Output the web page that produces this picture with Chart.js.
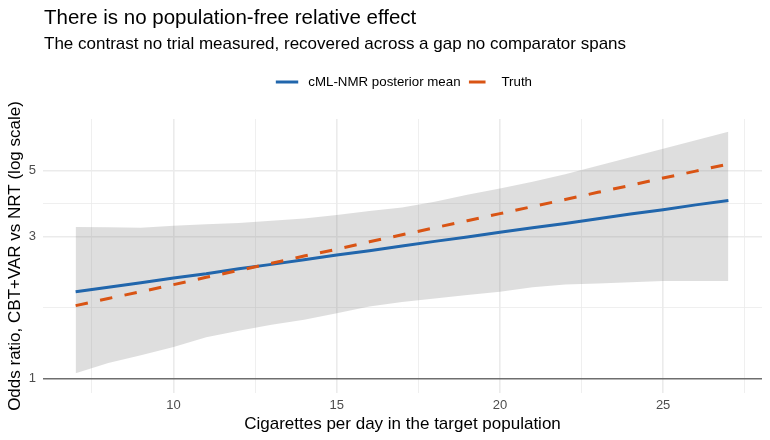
<!DOCTYPE html>
<html>
<head>
<meta charset="utf-8">
<script src="https://cdn.jsdelivr.net/npm/chart.js@4.4.1/dist/chart.umd.min.js"></script>
<style>
  html, body { margin: 0; padding: 0; background: #fff; }
  #wrap { width: 770px; height: 440px; position: relative; }
</style>
</head>
<body>
<div id="wrap"><canvas id="myChart"></canvas></div>
<script>
// テキスト
const TITLE = 'There is no population-free relative effect';
const SUBTITLE = 'The contrast no trial measured, recovered across a gap no comparator spans';
const X_TITLE = 'Cigarettes per day in the target population';
const Y_TITLE = 'Odds ratio, CBT+VAR vs NRT (log scale)';

// 横軸：1日あたりの本数
const cigs = [7, 8, 9, 10, 11, 12, 13, 14, 15, 16, 17, 18, 19, 20, 21, 22, 23, 24, 25, 26, 27];

// 事後平均と真値（オッズ比）
const posteriorMean = [1.96, 2.03, 2.10, 2.18, 2.25, 2.34, 2.42, 2.51, 2.60, 2.69, 2.79, 2.89, 2.99, 3.10, 3.21, 3.32, 3.44, 3.57, 3.69, 3.83, 3.96];
const truth = [1.76, 1.86, 1.96, 2.07, 2.19, 2.31, 2.44, 2.58, 2.72, 2.88, 3.04, 3.21, 3.39, 3.58, 3.78, 3.99, 4.22, 4.45, 4.71, 4.97, 5.25];

// 信用区間の帯
const bandUpper = [3.23, 3.22, 3.21, 3.26, 3.30, 3.33, 3.39, 3.45, 3.54, 3.65, 3.75, 3.92, 4.14, 4.35, 4.58, 4.85, 5.18, 5.53, 5.91, 6.31, 6.74];
const bandLower = [1.045, 1.13, 1.20, 1.28, 1.38, 1.45, 1.52, 1.58, 1.66, 1.75, 1.81, 1.86, 1.91, 1.96, 2.03, 2.07, 2.09, 2.11, 2.13, 2.13, 2.13];

// 目盛り
const xTicks = [7.5, 10, 12.5, 15, 17.5, 20, 22.5, 25, 27.5];
const xLabels = [10, 15, 20, 25];
const yTicks = [1, Math.sqrt(3), 3, Math.sqrt(15), 5];
const yLabels = [1, 3, 5];

const FONT = '"Liberation Sans", Arial, Helvetica, sans-serif';
const BLUE = '#2166AC';
const ORANGE = '#D95414';

const toPoints = ys => cigs.map((x, i) => ({ x: x, y: ys[i] }));

// タイトル・サブタイトル・凡例をパネル基準で描く
const headerPlugin = {
  id: 'header',
  afterDraw(chart) {
    const { ctx, chartArea } = chart;
    ctx.save();
    ctx.fillStyle = '#000';
    ctx.textAlign = 'left';
    ctx.textBaseline = 'alphabetic';
    ctx.font = `20.5px ${FONT}`;
    ctx.fillText(TITLE, chartArea.left + 1, 23.5);
    ctx.font = `17px ${FONT}`;
    ctx.fillText(SUBTITLE, chartArea.left + 1, 48.5);

    // 凡例（キー枠28px、線はその10%〜90%）
    const items = chart.data.datasets.filter(d => d.inLegend);
    ctx.font = `13.3px ${FONT}`;
    const keyW = 28, textGap = 7.3, itemGap = 5.6;
    const widths = items.map(d => keyW + textGap + ctx.measureText(d.label).width);
    const total = widths.reduce((a, b) => a + b, 0) + itemGap * (items.length - 1);
    let x = (chartArea.left + chartArea.right) / 2 - total / 2;
    const y = 82;
    items.forEach((d, i) => {
      ctx.beginPath();
      ctx.lineWidth = d.borderWidth;
      ctx.strokeStyle = d.borderColor;
      ctx.lineCap = 'butt';
      ctx.setLineDash(d.borderDash ? [16.6, 16.6] : []);
      ctx.moveTo(x + keyW * 0.1, y);
      ctx.lineTo(x + keyW * 0.9, y);
      ctx.stroke();
      ctx.setLineDash([]);
      ctx.fillStyle = '#000';
      ctx.textBaseline = 'middle';
      ctx.fillText(d.label, x + keyW + textGap, y);
      x += widths[i] + itemGap;
    });
    ctx.restore();
  }
};

new Chart(document.getElementById('myChart'), {
  type: 'line',
  data: {
    datasets: [
      {
        label: 'upper',
        data: toPoints(bandUpper),
        borderWidth: 0,
        pointRadius: 0,
        backgroundColor: 'rgba(127,127,127,0.26)',
        fill: '+1',
        order: 3
      },
      {
        label: 'lower',
        data: toPoints(bandLower),
        borderWidth: 0,
        pointRadius: 0,
        fill: false,
        order: 3
      },
      {
        label: 'cML-NMR posterior mean',
        data: toPoints(posteriorMean),
        borderColor: BLUE,
        borderWidth: 3,
        pointRadius: 0,
        fill: false,
        inLegend: true,
        order: 2
      },
      {
        label: 'Truth',
        data: toPoints(truth),
        borderColor: ORANGE,
        borderWidth: 3,
        borderDash: [12.5, 12.5],
        borderCapStyle: 'butt',
        pointRadius: 0,
        fill: false,
        inLegend: true,
        order: 1
      }
    ]
  },
  options: {
    responsive: true,
    maintainAspectRatio: false,
    animation: false,
    layout: { padding: { top: 119, right: 8, left: 0, bottom: 0 } },
    plugins: {
      legend: { display: false },
      title: { display: false },
      tooltip: { enabled: false }
    },
    scales: {
      x: {
        type: 'linear',
        min: 6.0,
        max: 28.03,
        afterFit: s => { s.height = 47; },
        afterBuildTicks: s => { s.ticks = xTicks.map(v => ({ value: v })); },
        border: { display: false },
        grid: {
          drawTicks: false,
          color: '#EBEBEB',
          lineWidth: c => (xLabels.includes(c.tick.value) ? 1.6 : 0.8)
        },
        ticks: {
          autoSkip: false,
          maxRotation: 0,
          padding: 5,
          color: '#4D4D4D',
          font: { family: FONT, size: 13 },
          callback: v => (xLabels.includes(v) ? String(v) : '')
        },
        title: {
          display: true,
          text: X_TITLE,
          color: '#000',
          font: { family: FONT, size: 17 },
          padding: { top: 0, bottom: 5 }
        }
      },
      y: {
        type: 'logarithmic',
        min: 0.897,
        max: 7.43,
        afterFit: s => { s.width = 43; },
        afterBuildTicks: s => { s.ticks = yTicks.map(v => ({ value: v })); },
        border: { display: false },
        grid: {
          drawTicks: false,
          color: c => (c.tick.value === 1 ? '#6E6E6E' : '#EBEBEB'),
          lineWidth: c => {
            if (c.tick.value === 1) return 1.5;
            return yLabels.includes(c.tick.value) ? 1.6 : 0.8;
          }
        },
        ticks: {
          autoSkip: false,
          padding: 7,
          color: '#4D4D4D',
          font: { family: FONT, size: 13 },
          callback: v => (yLabels.includes(v) ? String(v) : '')
        },
        title: {
          display: true,
          text: Y_TITLE,
          color: '#000',
          font: { family: FONT, size: 17 },
          padding: { top: 5, bottom: 0 }
        }
      }
    }
  },
  plugins: [headerPlugin]
});
</script>
</body>
</html>
